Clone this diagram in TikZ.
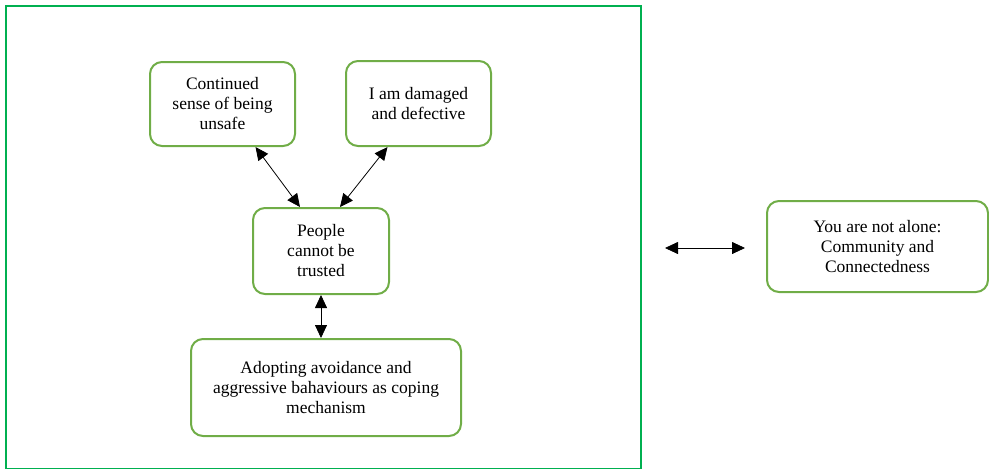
\documentclass[tikz,border=0pt]{standalone}
\usepackage{fontspec}
\setmainfont{Liberation Serif}
\usetikzlibrary{arrows.meta}

\definecolor{framegreen}{RGB}{0,176,80}
\definecolor{boxgreen}{RGB}{112,173,71}

\tikzset{
  belief/.style={draw=boxgreen, line width=2pt, rounded corners=12pt, align=center,
    font=\fontsize{17.5}{20}\selectfont, inner sep=0pt},
  biarrow/.style={{Triangle[length=13pt,width=12pt]}-{Triangle[length=13pt,width=12pt]}, line width=0.8pt}
}

\begin{document}
\begin{tikzpicture}[x=1pt,y=-1pt]
\useasboundingbox (0,0) rectangle (989,469);

%Outer frame
\draw [framegreen, line width=1.8pt] (6,6) rectangle (641,468.5);

% Text Node
\node [belief, minimum width=145pt, minimum height=84pt] (unsafe) at (222.5,104) {Continued\\sense of being\\unsafe};
% Text Node
\node [belief, minimum width=145pt, minimum height=85pt] (damaged) at (418.5,103.5) {I am damaged\\and defective};
% Text Node
\node [belief, minimum width=136pt, minimum height=86pt] (trust) at (321,251) {People\\cannot be\\trusted};
% Text Node
\node [belief, minimum width=270pt, minimum height=97pt] (coping) at (326,387.5) {Adopting avoidance and\\aggressive bahaviours as coping\\mechanism};
% Text Node
\node [belief, minimum width=221pt, minimum height=91pt] (alone) at (877.5,246.5) {You are not alone:\\Community and\\Connectedness};

%Arrows
\draw [biarrow] ([xshift=33pt]unsafe.south) -- ([xshift=-21pt]trust.north);
\draw [biarrow] ([xshift=-31pt]damaged.south) -- ([xshift=19pt]trust.north);
\draw [biarrow] (trust.south) -- (trust.south |- coping.north);
\coordinate (left) at (665,248);
\coordinate (right) at (745,248);
\draw [biarrow] (left) -- (right);

\end{tikzpicture}
\end{document}
